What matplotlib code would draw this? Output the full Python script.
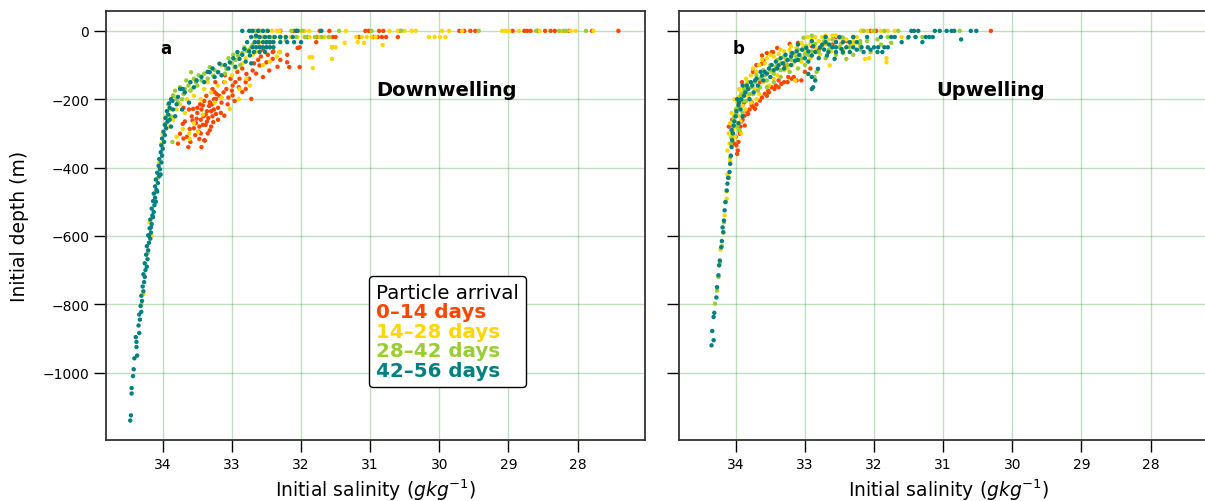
import numpy as np
import matplotlib
matplotlib.use("Agg")
import matplotlib.pyplot as plt
from matplotlib.lines import Line2D

# (salinity, depth) pairs, one array per arrival window and panel
red_a = np.array([
    (33.78, -330), (33.63, -340), (33.47, -316), (33.39, -321), (33.75, -301), (33.61, -287), (33.32, -291), (33.71, -272),
    (33.51, -257), (33.27, -267), (33.23, -243), (33.56, -228), (33.42, -218), (33.32, -209), (33.23, -199), (33.25, -179),
    (33.08, -170), (32.99, -160), (33.11, -150), (32.89, -140), (32.79, -126), (32.70, -116), (32.72, -199), (32.99, -189),
    (33.11, -248), (32.85, -179), (32.60, -101), (32.50, -92), (32.41, -82), (32.31, -62), (32.17, -106), (32.46, -116),
    (32.55, -135), (33.45, -260), (33.38, -245), (33.30, -235), (33.50, -240), (33.42, -275), (33.35, -300), (33.55, -285),
    (33.48, -295), (33.36, -265), (33.28, -250), (33.20, -225), (33.33, -220), (33.40, -205), (33.15, -210), (33.18, -190),
    (33.26, -200), (33.05, -195), (33.12, -180), (33.00, -175), (33.20, -260), (33.44, -230), (33.58, -250), (33.52, -270),
    (33.65, -310), (33.40, -320), (33.30, -280), (33.68, -265), (33.46, -215), (33.37, -190), (33.28, -170), (32.95, -150),
    (32.90, -165), (32.80, -150), (32.75, -140), (32.65, -125), (33.02, -140), (32.92, -120), (32.85, -110), (32.68, -95),
    (32.58, -75), (32.40, -60), (32.30, -85), (32.20, -70), (32.05, -50), (32.55, -55), (33.36, -235), (33.41, -250),
    (33.47, -280), (33.34, -255), (33.29, -215), (33.22, -185), (33.53, -305), (33.60, -325), (33.70, -315), (33.44, -340),
    (33.57, -262), (33.62, -230), (33.85, -190), (33.16, -240), (33.06, -215), (32.96, -205), (32.80, -170), (33.10, -130),
    (32.62, -85), (32.48, -70), (33.24, -150), (33.70, -225), (33.50, -225), (33.38, -275), (33.26, -230), (33.45, -300),
    (32.62, 0), (32.30, 0), (32.10, 0), (31.73, 0), (31.59, 0), (31.07, 0), (31.02, 0), (30.87, 0), (30.81, 0), (30.56, 0),
    (29.71, 0), (29.64, 0), (29.55, 0), (29.48, 0), (28.94, 0), (28.77, 0), (28.73, 0), (28.68, 0), (28.58, 0), (28.47, 0),
    (28.39, 0), (28.33, 0), (28.13, 0), (27.79, 0), (27.41, 0),
    (32.30, -18), (31.90, -18), (31.78, -18), (31.54, -18), (31.50, -18), (31.16, -18), (30.96, -18), (30.89, -18),
    (30.83, -18), (30.77, -18), (30.60, -18), (31.78, -33), (32.45, -33), (31.55, -48), (32.02, -48), (32.20, -92),
    (32.34, -105), (32.02, -106), (32.60, -18), (32.50, -33), (32.41, -62),
])

gold_a = np.array([
    (34.05, -385), (34.10, -470), (34.19, -560), (34.16, -600), (34.28, -770), (34.02, -330), (34.00, -300),
    (33.71, -287), (33.61, -316), (33.49, -296), (33.03, -228), (32.89, -170), (32.74, -160), (32.79, -140), (33.85, -260),
    (33.80, -230), (33.90, -280), (33.75, -215), (33.65, -200), (33.55, -190), (33.40, -170), (33.30, -180), (33.20, -160),
    (33.10, -150), (33.00, -130), (32.95, -110), (32.85, -95), (32.80, -80), (32.70, -70), (32.65, -60), (32.60, -45),
    (32.55, -100), (32.45, -90), (32.35, -75), (33.45, -200), (33.35, -150), (33.58, -170), (33.68, -240), (33.25, -210),
    (33.15, -195), (32.90, -200), (33.55, -270), (33.42, -245), (33.62, -300), (33.80, -310), (33.95, -250),
    (32.72, 0), (32.65, 0), (32.58, 0), (32.50, 0), (32.42, 0), (32.35, 0), (32.31, 0), (32.02, 0), (31.95, 0), (31.88, 0),
    (31.35, 0), (30.72, 0), (30.60, 0), (30.50, 0), (30.40, 0), (30.34, 0), (29.96, 0), (29.86, 0), (29.67, 0), (29.09, 0),
    (29.04, 0), (28.99, 0), (28.23, 0), (28.16, 0), (28.10, 0), (28.03, 0), (27.77, 0), (28.85, 0), (28.55, 0),
    (32.31, -18), (32.22, -18), (32.15, -18), (32.05, -18), (31.95, -18), (31.88, -18), (31.73, -18), (31.66, -18),
    (31.59, -18), (31.20, -18), (31.12, -18), (31.05, -18), (30.98, -18), (30.92, -18), (30.15, -18), (30.07, -18),
    (29.99, -18), (29.91, -18), (32.60, -18), (32.50, -18), (32.40, -18),
    (31.37, -35), (31.18, -33), (31.09, -35), (30.82, -41), (31.55, -48), (31.50, -48), (31.88, -77), (31.84, -77),
    (31.55, -82), (31.83, -109), (32.31, -62), (32.60, -33), (32.45, -48),
])

green_a = np.array([
    (33.85, -189), (33.78, -209), (33.59, -121), (33.63, -160), (33.44, -145), (33.27, -131), (33.32, -106), (33.08, -111),
    (32.91, -72), (32.79, -58), (32.72, -48), (32.62, -33), (32.46, -33), (32.40, -33), (32.22, -28), (32.30, -18),
    (32.07, -18), (31.98, 0), (33.86, -325), (33.90, -230), (33.82, -175), (33.75, -165), (33.70, -185), (33.66, -145),
    (33.55, -140), (33.50, -160), (33.40, -125), (33.35, -140), (33.20, -120), (33.15, -100), (33.00, -95), (33.05, -80),
    (32.95, -85), (32.85, -65), (32.75, -55), (32.70, -40), (33.92, -215), (33.95, -270), (33.88, -250), (33.72, -200),
    (33.60, -175), (33.48, -130), (33.10, -125), (32.88, -100), (32.66, -18), (32.55, -18), (32.45, -18), (32.40, -18),
    (33.80, -200), (33.68, -170), (33.52, -150), (33.25, -115), (32.98, -70), (32.82, -48), (32.58, -48), (32.50, -48),
    (32.72, 0), (32.66, 0), (32.60, 0), (32.50, 0), (32.14, 0), (31.94, -18), (31.80, -18), (31.70, -18), (31.60, -18),
    (30.98, 0), (31.45, 0), (31.70, 0), (29.43, 0), (28.27, 0), (28.20, 0), (28.17, 0), (27.88, 0), (28.60, 0), (30.55, 0),
    (34.22, -650), (34.31, -800), (34.07, -430),
])

teal_a = np.array([
    (34.47, -1140), (34.46, -1125), (34.45, -1061), (34.45, -1045), (34.43, -1010), (34.42, -990), (34.41, -958),
    (34.37, -950), (34.38, -925), (34.38, -910), (34.39, -896), (34.34, -884), (34.35, -862), (34.33, -845), (34.34, -830),
    (34.31, -822), (34.32, -805), (34.30, -790), (34.31, -775), (34.28, -762), (34.29, -748), (34.27, -735), (34.26, -720),
    (34.28, -712), (34.25, -700), (34.23, -690), (34.26, -680), (34.22, -668), (34.24, -655), (34.21, -642), (34.23, -630),
    (34.20, -620), (34.18, -608), (34.21, -598), (34.17, -590), (34.19, -578), (34.16, -565), (34.18, -552), (34.15, -540),
    (34.13, -530), (34.16, -520), (34.12, -510), (34.14, -498), (34.11, -488), (34.13, -476), (34.09, -465), (34.11, -455),
    (34.07, -445), (34.10, -435), (34.05, -425), (34.08, -415), (34.04, -405), (34.06, -395), (34.02, -385), (34.05, -375),
    (34.01, -365), (34.03, -355), (34.00, -345), (34.02, -335), (33.98, -325), (34.01, -315), (33.97, -305), (33.99, -295),
    (33.95, -285), (33.97, -275), (33.93, -265), (33.96, -255), (33.92, -245), (33.94, -235), (33.90, -225), (33.91, -212),
    (33.88, -200), (34.20, -600), (34.17, -575), (34.14, -545), (34.10, -500), (34.08, -470), (34.03, -420),
    (33.75, -170), (33.71, -170), (33.78, -193), (33.86, -205), (33.51, -145), (33.44, -135), (33.32, -121), (33.20, -121),
    (33.18, -96), (33.03, -92), (32.89, -82), (32.82, -53), (32.74, -72), (32.67, -33), (32.65, -14), (32.70, 0),
    (32.55, -33), (32.46, -18), (32.22, -18), (32.07, 0), (33.85, -230), (33.82, -250), (33.88, -280), (33.80, -215),
    (33.68, -180), (33.60, -150), (33.55, -165), (33.40, -150), (33.35, -120), (33.28, -110), (33.25, -135), (33.10, -100),
    (32.98, -80), (32.95, -105), (32.85, -70), (32.80, -90), (32.75, -60), (32.70, -48), (32.65, -48), (32.60, -48),
    (32.55, -48), (32.50, -48), (32.45, -48), (32.40, -48), (32.68, -62), (32.72, -95), (32.62, -33), (32.50, -33),
    (32.45, -33), (32.40, -33), (32.30, -33), (32.20, -33), (32.10, -33), (32.00, -33), (32.60, -18), (32.52, -18),
    (32.38, -18), (32.30, -18), (32.12, -18), (32.85, 0), (32.75, 0), (32.62, 0), (32.55, 0), (32.48, 0), (32.05, 0),
    (31.71, 0), (32.72, -18), (32.78, -33), (32.92, -62), (33.05, -110), (33.15, -130), (33.62, -210), (33.72, -230),
    (33.90, -260), (32.60, -62), (32.52, -62),
])

red_b = np.array([
    (33.99, -335), (33.94, -296), (33.87, -248), (33.77, -209), (33.65, -204), (33.58, -184), (33.48, -165), (33.38, -145),
    (33.19, -140), (33.12, -145), (33.62, -96), (33.62, -72), (33.48, -62), (33.22, -38), (33.10, -35), (32.90, -45),
    (33.46, -62), (33.60, -87), (33.29, -101), (33.65, -150), (33.53, -175), (33.38, -165), (33.24, -135), (33.05, -145),
    (33.91, -150), (33.89, -184), (33.77, -218), (33.72, -228), (33.82, -243), (33.87, -277), (33.94, -301), (33.96, -325),
    (33.97, -350), (34.00, -310), (33.92, -265), (33.80, -230), (33.70, -215), (33.55, -190), (33.42, -160), (33.30, -150),
    (32.70, -18), (32.55, -18), (32.40, -30), (32.18, 0), (32.05, 0), (31.97, 0), (30.31, 0), (32.80, -55), (32.60, -40),
    (33.75, -120), (33.85, -160), (34.05, -260),
    (33.93, -280), (33.90, -260), (33.84, -235), (33.75, -222), (33.62, -195), (33.52, -180), (33.44, -170), (33.34, -155),
    (33.25, -150), (33.16, -135), (33.00, -120), (32.92, -110), (33.98, -360), (34.02, -330), (34.10, -280), (33.88, -210),
    (33.70, -100), (33.55, -65), (33.40, -50),
])

gold_b = np.array([
    (34.10, -300), (34.08, -270), (34.06, -240), (34.02, -200), (33.95, -170), (33.85, -140), (33.75, -110), (33.62, -85),
    (33.50, -70), (33.35, -55), (33.20, -45), (33.05, -35), (32.90, -25), (32.75, -18), (32.60, -14), (34.05, -320),
    (34.00, -280), (33.95, -250), (33.90, -220), (33.82, -190), (33.72, -170), (33.60, -150), (33.50, -120), (33.40, -100),
    (33.28, -80), (33.15, -70), (33.00, -60), (32.85, -50), (32.70, -40), (32.55, -30), (32.40, -25), (32.25, -18),
    (34.12, -350), (34.08, -380), (34.13, -470), (34.12, -420), (34.18, -590), (34.22, -640), (34.13, -491), (34.16, -540),
    (32.13, -82), (32.07, -80), (31.82, -80), (31.82, -92), (32.64, -101), (33.14, -145), (33.70, -200), (33.92, -300),
    (33.45, -140), (33.25, -110), (32.18, 0), (32.10, 0), (32.02, 0), (31.90, 0), (31.80, 0), (31.70, 0), (32.96, -18),
    (32.85, -18), (32.70, -14), (32.55, -14), (32.47, -18), (32.30, -30), (32.20, -45), (31.60, -18),
    (34.09, -330), (34.07, -310), (34.04, -290), (34.03, -265), (34.00, -245), (33.98, -225), (33.96, -195), (33.92, -180),
    (33.88, -160), (33.83, -150), (33.78, -130), (33.70, -120), (33.66, -100), (33.58, -95), (33.55, -80), (33.45, -75),
    (33.38, -68), (33.30, -60), (33.22, -55), (33.12, -50), (33.02, -45), (32.92, -38), (32.80, -30), (32.66, -25),
    (32.50, -22), (34.01, -310), (33.93, -265), (33.86, -230), (33.78, -210), (33.66, -185), (33.52, -160), (33.40, -130),
    (33.30, -115), (33.18, -100), (33.05, -90), (32.92, -80), (32.78, -70), (32.62, -60), (32.45, -55), (32.30, -40),
])

green_b = np.array([
    (34.30, -798), (34.27, -760), (34.25, -720), (34.23, -680), (34.20, -630), (34.17, -560), (34.14, -500), (34.10, -430),
    (34.08, -370), (34.07, -330), (34.05, -300), (34.03, -260), (34.00, -230), (33.97, -210), (33.93, -190), (33.88, -170),
    (33.80, -150), (33.70, -130), (33.60, -115), (33.50, -100), (33.40, -85), (33.30, -75), (33.20, -65), (33.10, -55),
    (32.98, -45), (32.85, -38), (32.72, -30), (32.60, -25), (32.45, -20), (32.30, -18), (33.98, -280), (33.90, -240),
    (33.85, -205), (33.75, -185), (33.65, -165), (33.55, -145), (33.45, -125), (33.35, -115), (33.25, -100), (33.15, -90),
    (33.05, -80), (32.95, -70), (32.80, -62), (32.65, -55), (32.50, -48), (32.35, -48), (32.20, -55), (32.05, -62),
    (31.90, -40), (31.75, -35), (32.40, -82), (32.30, -70), (32.86, -135), (32.83, -120), (31.51, -21), (31.40, -18),
    (31.30, -18), (30.76, 0), (32.15, 0), (32.00, 0), (31.85, 0), (31.65, 0), (33.02, -20), (32.90, -14), (32.20, -30),
    (32.10, -30),
    (34.06, -315), (34.04, -280), (34.02, -250), (33.99, -240), (33.96, -225), (33.94, -205), (33.90, -185), (33.85, -175),
    (33.78, -165), (33.72, -150), (33.65, -140), (33.58, -130), (33.50, -115), (33.42, -105), (33.35, -95), (33.28, -90),
    (33.20, -85), (33.12, -75), (33.00, -68), (32.90, -60), (32.75, -50), (32.62, -45), (32.48, -38), (32.35, -35),
    (32.20, -38), (33.95, -290), (33.88, -205), (33.80, -185), (33.68, -175), (33.55, -165), (33.45, -150), (33.35, -135),
    (33.22, -120), (33.10, -110), (33.00, -100), (32.70, -80), (32.55, -70), (32.45, -65), (31.95, -25), (31.80, -18),
])

teal_b = np.array([
    (34.35, -920), (34.32, -905), (34.34, -878), (34.32, -837), (34.31, -825), (34.28, -780), (34.27, -750), (34.25, -715),
    (34.24, -686), (34.23, -672), (34.21, -633), (34.20, -615), (34.18, -589), (34.19, -575), (34.17, -555), (34.16, -525),
    (34.15, -501), (34.13, -467), (34.12, -447), (34.11, -430), (34.09, -413), (34.08, -389), (34.07, -365), (34.06, -340),
    (34.05, -320), (34.03, -277), (33.96, -218), (33.82, -170), (33.62, -131), (33.38, -101), (33.14, -87), (32.90, -72),
    (32.66, -62), (32.47, -53), (32.18, -48), (31.94, -48), (34.06, -290), (34.00, -250), (33.93, -230), (33.98, -200),
    (33.88, -190), (33.90, -160), (33.78, -150), (33.72, -145), (33.68, -160), (33.58, -120), (33.52, -110), (33.45, -115),
    (33.42, -90), (33.32, -95), (33.25, -85), (33.20, -75), (33.08, -70), (33.00, -80), (32.95, -60), (32.85, -62),
    (32.78, -48), (32.72, -55), (32.60, -48), (32.55, -62), (32.40, -48), (32.30, -48), (32.57, -82), (32.81, -111),
    (32.09, -48), (32.00, -48), (31.85, -48), (31.80, -48), (32.70, -33), (32.55, -33), (32.45, -33), (32.35, -33),
    (32.25, -33), (33.10, -40), (32.90, -30), (32.95, -126), (32.90, -135), (32.85, -145), (32.88, -165), (32.90, -170),
    (31.46, 0), (31.42, 0), (31.36, 0), (31.12, 0), (31.05, 0), (30.95, 0), (30.88, 0), (30.84, 0), (30.60, 0), (30.52, 0),
    (31.50, -18), (31.40, -18), (31.25, -18), (31.20, -18), (30.74, -25), (32.30, -18), (32.10, -18), (31.90, -18),
    (31.70, -18), (32.50, -18), (32.70, -18),
    (34.04, -300), (34.02, -265), (33.99, -235), (33.95, -210), (33.92, -200), (33.86, -180), (33.84, -160), (33.76, -160),
    (33.70, -140), (33.64, -120), (33.55, -125), (33.48, -100), (33.40, -110), (33.35, -80), (33.28, -70), (33.18, -65),
    (33.12, -60), (33.04, -55), (32.98, -50), (32.88, -45), (32.75, -40), (32.65, -40), (32.55, -48), (32.45, -62),
    (32.35, -62), (32.25, -55), (32.15, -62), (32.05, -55), (31.95, -62), (31.88, -62), (33.96, -270), (33.90, -250),
    (33.80, -200), (33.74, -180), (33.60, -145), (33.50, -135), (33.30, -110), (33.20, -100), (33.10, -85), (32.95, -90),
    (32.80, -80), (32.68, -72), (31.75, -18), (31.60, -33), (31.30, -33), (31.15, -18),
])

labels = ["0\u201314 days", "14\u201328 days", "28\u201342 days", "42\u201356 days"]
colors = ["orangered", "gold", "yellowgreen", "teal"]
panels = [("a", "Downwelling", [red_a, gold_a, green_a, teal_a]),
          ("b", "Upwelling", [red_b, gold_b, green_b, teal_b])]

xticks = [34, 33, 32, 31, 30, 29, 28]
yticks = [0, -200, -400, -600, -800, -1000]

fig = plt.figure(figsize=(12.05, 5.02), dpi=100)
ax_a = fig.add_axes([0.088, 0.1215, 0.447, 0.8545])
ax_b = fig.add_axes([0.5635, 0.1215, 0.447, 0.8545])

for ax, (letter, title, groups) in zip([ax_a, ax_b], panels):
    for pts, c in zip(groups, colors):
        ax.scatter(pts[:, 0], pts[:, 1], s=10, color=c, edgecolors="none")
    ax.set_xlim(34.82, 27.03)
    ax.set_ylim(-1197, 58)
    ax.set_xticks(xticks)
    ax.set_yticks(yticks)
    ax.grid(True, color="green", alpha=0.25, lw=1)
    ax.set_axisbelow(True)
    ax.tick_params(direction="out", length=8.5, width=1, labelsize=10, colors="k")
    for sp in ax.spines.values():
        sp.set_color("#333333")
        sp.set_linewidth(1.3)
    ax.set_xlabel("Initial salinity ($gkg^{-1}$)", fontsize=13.5, labelpad=4)
    ax.text(33.96, -50, letter, fontsize=12, fontweight="bold", ha="center", va="center")
    ax.text(29.9 if letter == "a" else 30.32, -172, title, fontsize=14, fontweight="bold",
            ha="center", va="center")

ax_a.set_ylabel("Initial depth (m)", fontsize=13.5, labelpad=10)
ax_b.tick_params(labelleft=False)

# legend with coloured text only
handles = [Line2D([], [], linestyle="none", marker=None) for _ in labels]
leg = ax_a.legend(handles, labels, title="Particle arrival", loc="upper left",
                  bbox_to_anchor=(0.488, 0.382), borderaxespad=0, handlelength=0,
                  handletextpad=0, labelspacing=0.02, borderpad=0.35,
                  prop={"weight": "bold", "size": 14.3}, title_fontsize=14.3,
                  alignment="left", framealpha=1, edgecolor="k", fancybox=True)
for t, c in zip(leg.get_texts(), colors):
    t.set_color(c)
leg.get_frame().set_linewidth(1)

plt.savefig("out.png", dpi=100)
